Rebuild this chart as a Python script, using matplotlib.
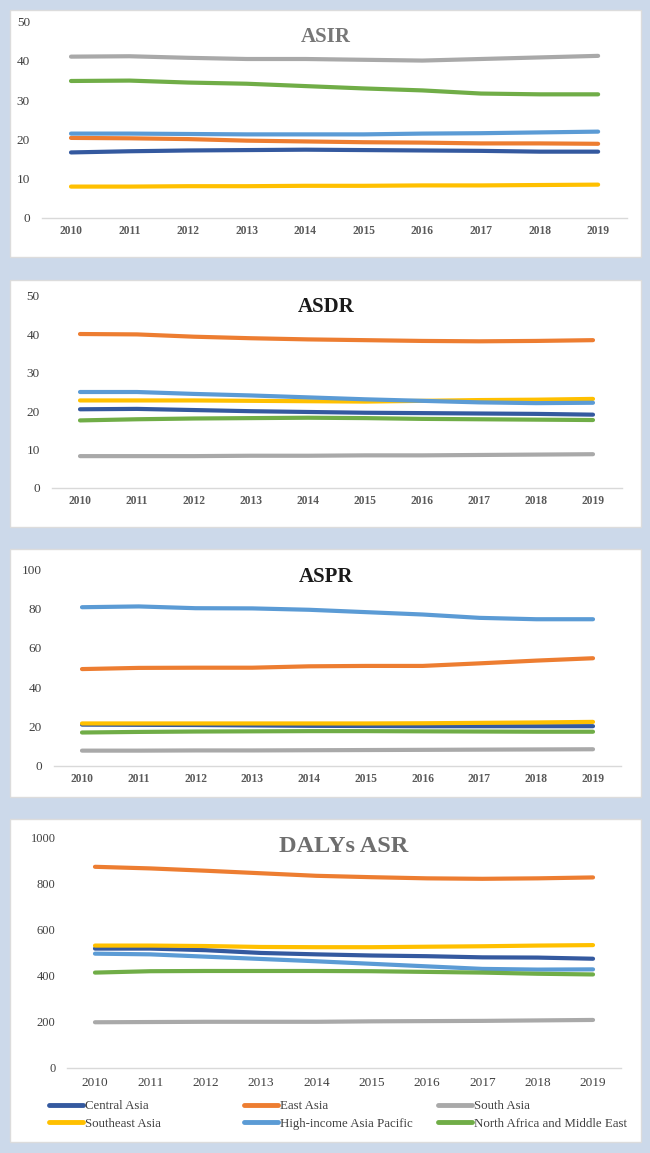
import matplotlib
matplotlib.use("Agg")
import matplotlib.pyplot as plt
from matplotlib.patches import Rectangle

# ----------------------------------------------------------
# DATA
# ----------------------------------------------------------

years = [2010, 2011, 2012, 2013, 2014, 2015, 2016, 2017, 2018, 2019]

regions = ["Central Asia", "East Asia", "South Asia",
           "Southeast Asia", "High-income Asia Pacific",
           "North Africa and Middle East"]

colors = ["#34599F", "#ED7D31", "#A9A9A9", "#FFC000", "#5B9BD5", "#70AD47"]

asir = {
    "Central Asia": [16.7, 17.0, 17.2, 17.3, 17.4, 17.3, 17.2, 17.1, 16.9, 16.9],
    "East Asia": [20.4, 20.3, 20.1, 19.7, 19.5, 19.3, 19.2, 19.0, 19.0, 18.9],
    "South Asia": [41.1, 41.2, 40.8, 40.5, 40.5, 40.3, 40.1, 40.5, 40.9, 41.3],
    "Southeast Asia": [8.0, 8.0, 8.1, 8.1, 8.2, 8.2, 8.3, 8.3, 8.4, 8.5],
    "High-income Asia Pacific": [21.5, 21.5, 21.4, 21.3, 21.3, 21.3, 21.5, 21.6, 21.8, 22.0],
    "North Africa and Middle East": [34.9, 35.0, 34.5, 34.2, 33.6, 33.0, 32.5, 31.7, 31.5, 31.5],
}

asdr = {
    "Central Asia": [20.5, 20.6, 20.3, 20.0, 19.8, 19.6, 19.5, 19.4, 19.3, 19.1],
    "East Asia": [40.1, 40.0, 39.4, 39.0, 38.7, 38.5, 38.3, 38.2, 38.3, 38.5],
    "South Asia": [8.3, 8.3, 8.3, 8.4, 8.4, 8.5, 8.5, 8.6, 8.7, 8.8],
    "Southeast Asia": [22.8, 22.8, 22.8, 22.7, 22.6, 22.5, 22.7, 22.9, 23.0, 23.2],
    "High-income Asia Pacific": [25.0, 25.0, 24.5, 24.1, 23.6, 23.1, 22.7, 22.3, 22.1, 22.2],
    "North Africa and Middle East": [17.6, 17.9, 18.1, 18.2, 18.3, 18.2, 18.0, 17.9, 17.8, 17.7],
}

aspr = {
    "Central Asia": [21.0, 20.9, 20.8, 20.6, 20.4, 20.3, 20.2, 20.2, 20.2, 20.2],
    "East Asia": [49.2, 49.8, 49.9, 49.9, 50.6, 50.8, 50.8, 52.1, 53.5, 54.7],
    "South Asia": [7.8, 7.8, 7.9, 7.9, 8.0, 8.1, 8.2, 8.3, 8.4, 8.5],
    "Southeast Asia": [21.6, 21.6, 21.6, 21.6, 21.6, 21.6, 21.7, 21.9, 22.1, 22.4],
    "High-income Asia Pacific": [80.6, 81.0, 80.1, 80.0, 79.3, 78.1, 76.9, 75.2, 74.5, 74.5],
    "North Africa and Middle East": [17.0, 17.3, 17.5, 17.6, 17.7, 17.7, 17.6, 17.5, 17.4, 17.4],
}

dalys = {
    "Central Asia": [517, 517, 510, 498, 492, 487, 484, 479, 478, 473],
    "East Asia": [871, 864, 854, 843, 832, 826, 821, 819, 821, 825],
    "South Asia": [198, 199, 200, 200, 200, 202, 203, 204, 206, 208],
    "Southeast Asia": [530, 530, 528, 524, 523, 523, 525, 527, 530, 532],
    "High-income Asia Pacific": [495, 492, 482, 472, 462, 451, 440, 429, 426, 427],
    "North Africa and Middle East": [413, 419, 420, 420, 420, 419, 416, 413, 408, 405],
}

# ----------------------------------------------------------
# FIGURE
# ----------------------------------------------------------

plt.rcParams["font.family"] = ["Liberation Serif", "DejaVu Serif"]

W, H = 650, 1153
fig = plt.figure(figsize=(W / 100, H / 100), dpi=100)
fig.patch.set_facecolor("#CCD9EA")


def px_box(x0, y0, x1, y1):
    # pixel box (top-left origin) -> figure fraction [l, b, w, h]
    return [x0 / W, 1 - y1 / H, (x1 - x0) / W, (y1 - y0) / H]


# white cards behind each chart
cards = [(10, 10, 641, 257), (10, 280, 641, 527),
         (10, 549, 641, 797), (10, 819, 641, 1142)]
for x0, y0, x1, y1 in cards:
    l, b, w, h = px_box(x0, y0, x1, y1)
    fig.patches.append(Rectangle((l, b), w, h, transform=fig.transFigure,
                                 facecolor="white", edgecolor="#DCDCDC",
                                 linewidth=1.0, zorder=-10))

panels = [
    dict(data=asir, title="ASIR", tcolor="#777777", tsize=15, ymax=50, ystep=10,
         box=(41.7, 21.7, 627.4, 218), tpos=(326, 37), xbold=True, xsize=8.3, ysize=9.5),
    dict(data=asdr, title="ASDR", tcolor="#1A1A1A", tsize=15, ymax=50, ystep=10,
         box=(51.5, 296, 621.5, 488), tpos=(326, 307), xbold=True, xsize=8.3, ysize=9.5),
    dict(data=aspr, title="ASPR", tcolor="#1A1A1A", tsize=15, ymax=100, ystep=20,
         box=(53.6, 569, 621.4, 766), tpos=(326, 577), xbold=True, xsize=8.3, ysize=9.5),
    dict(data=dalys, title="DALYs ASR", tcolor="#6E6E6E", tsize=17.5, ymax=1000, ystep=200,
         box=(67.3, 837, 620.7, 1068), tpos=(344, 847), xbold=False, xsize=9.5, ysize=9),
]

handles = {}
for p in panels:
    ax = fig.add_axes(px_box(*p["box"]))
    ax.set_zorder(1)
    ax.set_facecolor("none")
    x = list(range(len(years)))
    for name, c in zip(regions, colors):
        ln, = ax.plot(x, p["data"][name], color=c, linewidth=3.0,
                      solid_capstyle="round", solid_joinstyle="round", label=name)
        handles[name] = ln
    ax.set_xlim(-0.5, len(years) - 0.5)
    ax.set_ylim(0, p["ymax"])
    ax.set_yticks(range(0, p["ymax"] + 1, p["ystep"]))
    ax.set_xticks(x)
    ax.set_xticklabels([str(y) for y in years],
                       fontweight="bold" if p["xbold"] else "normal",
                       fontsize=p["xsize"],
                       color="#595959" if p["xbold"] else "#404040")
    for t in ax.get_yticklabels():
        t.set_fontsize(p["ysize"])
        t.set_color("#404040")
    ax.tick_params(axis="both", length=0)
    ax.tick_params(axis="y", pad=8.5)
    ax.tick_params(axis="x", pad=5 if p["xbold"] else 6.5)
    for s in ["top", "right", "left"]:
        ax.spines[s].set_visible(False)
    ax.spines["bottom"].set_color("#D9D9D9")
    ax.spines["bottom"].set_linewidth(1.0)
    ax.spines["bottom"].set_zorder(0)
    tx, ty = p["tpos"]
    fig.text(tx / W, 1 - ty / H, p["title"], ha="center", va="center",
             fontsize=p["tsize"], fontweight="bold", color=p["tcolor"])

# legend: three columns, two rows
legend_cols = [(49, ["Central Asia", "Southeast Asia"]),
               (244, ["East Asia", "High-income Asia Pacific"]),
               (438, ["South Asia", "North Africa and Middle East"])]
for xpx, names in legend_cols:
    leg = fig.legend([handles[n] for n in names], names,
                     loc="upper left", bbox_to_anchor=(xpx / W, 1 - 1100 / H),
                     frameon=False, fontsize=9.3, handlelength=2.6,
                     handletextpad=0.15, labelspacing=0.45,
                     borderaxespad=0, borderpad=0)
    for t in leg.get_texts():
        t.set_color("#404040")
    for h in leg.legend_handles:
        h.set_linewidth(3.5)

fig.savefig("out.png", dpi=100, facecolor=fig.get_facecolor())
